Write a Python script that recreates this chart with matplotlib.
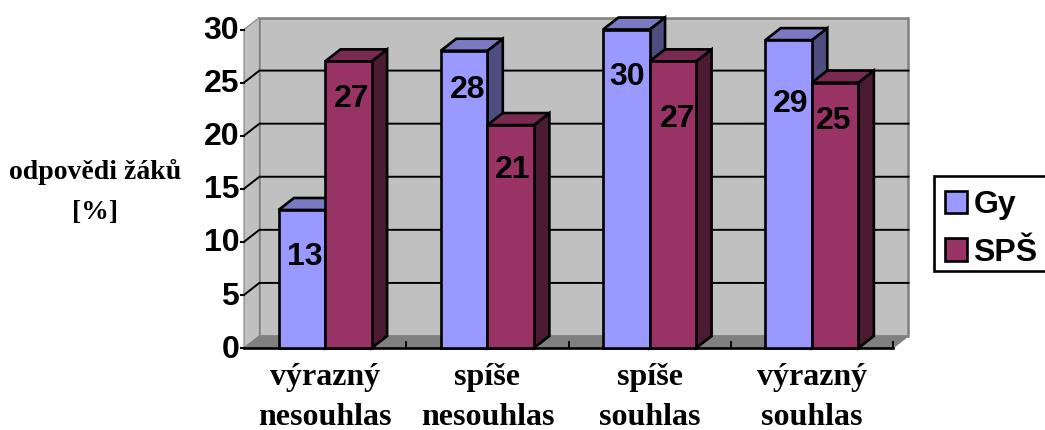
import matplotlib
matplotlib.use("Agg")
import matplotlib.pyplot as plt
from matplotlib.patches import Patch, Rectangle

# Data
categories = ["výrazný\nnesouhlas", "spíše\nnesouhlas", "spíše\nsouhlas", "výrazný\nsouhlas"]
gy = [13, 28, 30, 29]
sps = [27, 21, 27, 25]
y_ticks = [0, 5, 10, 15, 20, 25, 30]

# Oblique depth of the fake 3D box, in data units
depth_x = 0.095
depth_y = 1.13
bar_w = 0.287

W, H = 1045, 430
fig = plt.figure(figsize=(W / 100, H / 100), dpi=100)
ax = fig.add_axes([244 / W, 1 - 348 / H, 649 / W, 318.5 / H])
ax.set_xlim(0, 4)
ax.set_ylim(0, 30)
ax.axis("off")

wall = "#C0C0C0"
edge_gray = "#808080"

# Back wall, left wall, floor
ax.fill([depth_x, 4 + depth_x, 4 + depth_x, depth_x], [depth_y, depth_y, 30 + depth_y, 30 + depth_y],
        facecolor=wall, edgecolor=edge_gray, lw=1.8, clip_on=False, zorder=1)
ax.fill([0, depth_x, depth_x, 0], [0, depth_y, 30 + depth_y, 30],
        facecolor=wall, edgecolor=edge_gray, lw=0.8, clip_on=False, zorder=1)
ax.fill([0, 4, 4 + depth_x, depth_x], [0, 0, depth_y, depth_y],
        facecolor=edge_gray, edgecolor=edge_gray, lw=0.8, clip_on=False, zorder=1)

# Grid lines on the walls, and the tick marks
for t in y_ticks[1:-1]:
    ax.plot([0, depth_x, 4 + depth_x], [t, t + depth_y, t + depth_y], color="black", lw=1.4,
            clip_on=False, zorder=2, solid_joinstyle="miter")
for t in y_ticks:
    ax.plot([-0.02, 0], [t, t], color="black", lw=1.5, clip_on=False, zorder=2)
    ax.text(-0.03, t - 0.15, str(t), ha="right", va="center", fontsize=23, fontweight="bold",
            family="Liberation Sans", clip_on=False)
for i in range(1, 5):
    ax.plot([i, i], [0, 0.6], color="black", lw=1.3, clip_on=False, zorder=2)
ax.plot([0, 4], [0, 0], color="black", lw=1.9, clip_on=False, zorder=2)


def draw_bars(lefts, values, face, top, side, z):
    ax.bar(lefts, values, width=bar_w, align="edge", color=face, edgecolor="black", lw=1.9,
           clip_on=False, zorder=z + 0.2)
    for x, v in zip(lefts, values):
        r = x + bar_w
        ax.fill([r, r + depth_x, r + depth_x, r], [0, depth_y, v + depth_y, v],
                facecolor=side, edgecolor="black", lw=1.9, clip_on=False, zorder=z)
        ax.fill([x, r, r + depth_x, x + depth_x], [v, v, v + depth_y, v + depth_y],
                facecolor=top, edgecolor="black", lw=1.9, clip_on=False, zorder=z)


for i in range(4):
    draw_bars([i + 0.5 - bar_w], [gy[i]], "#9999FF", "#7A7AC2", "#4D4D80", 3 + i)
    draw_bars([i + 0.5], [sps[i]], "#993366", "#7A2952", "#4D1A33", 3.5 + i)

# Value labels sit a bit below the bar tops, not at one fixed offset
gy_label_drop = [4.4, 3.7, 4.5, 6.0]
sps_label_drop = [3.5, 4.2, 5.4, 3.6]
gy_label_shift = [0.02, 0.02, 0.002, 0.014]
sps_label_shift = [0.02, 0.014, 0.03, -0.012]
for i in range(4):
    ax.text(i + 0.5 - bar_w / 2 + gy_label_shift[i], gy[i] - gy_label_drop[i], str(gy[i]), ha="center",
            va="center", fontsize=23, fontweight="bold", family="Liberation Sans", zorder=10)
    ax.text(i + 0.5 + bar_w / 2 + sps_label_shift[i], sps[i] - sps_label_drop[i], str(sps[i]), ha="center",
            va="center", fontsize=23, fontweight="bold", family="Liberation Sans", zorder=10)

# Category labels
for i, c in enumerate(categories):
    ax.text(i + 0.5, -1.4, c, ha="center", va="top", fontsize=23, fontweight="bold",
            family="Liberation Serif", linespacing=1.49, clip_on=False)

fig.text(95 / W, 1 - 192 / H, "odpovědi žáků\n[%]", ha="center", va="center", fontsize=20,
         fontweight="bold", family="Liberation Serif", linespacing=1.75)

# Legend: the frame runs past the right edge of the picture, so it is drawn separately
fig.add_artist(Rectangle((934 / W, 1 - 270.5 / H), 130 / W, 94.5 / H, transform=fig.transFigure,
                         facecolor="white", edgecolor="black", lw=1.9, zorder=5))
handles = [Patch(facecolor="#9999FF", edgecolor="black", lw=1.9, label="Gy"),
           Patch(facecolor="#993366", edgecolor="black", lw=1.9, label="SPŠ")]
leg = fig.legend(handles=handles, loc="upper left", bbox_to_anchor=(932 / W, 1 - 177.5 / H),
                 bbox_transform=fig.transFigure, frameon=False,
                 prop={"family": "Liberation Sans", "weight": "bold", "size": 23},
                 handlelength=0.7, handleheight=0.7, handletextpad=0.2, labelspacing=0.55,
                 borderpad=0.4, borderaxespad=0)
leg.set_zorder(6)

fig.savefig("out.png", dpi=100)
